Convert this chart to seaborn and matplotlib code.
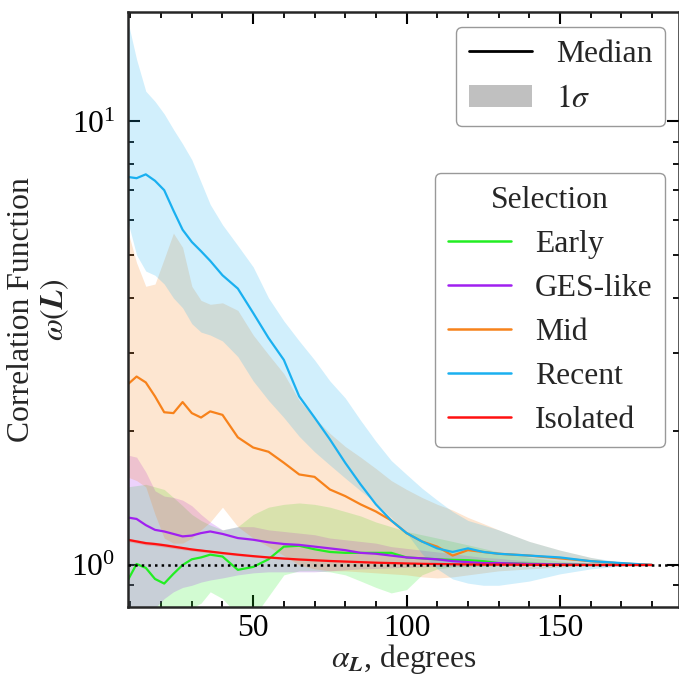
import numpy as np
import pandas as pd
import matplotlib
matplotlib.use("Agg")
import matplotlib.pyplot as plt
from matplotlib.lines import Line2D
from matplotlib.patches import Patch
import seaborn as sns

# --- Data ---
angles = [9, 12, 15, 18, 21, 24, 27, 30, 33, 36, 40, 45, 50, 55, 60, 65, 70, 75,
          80, 85, 90, 95, 100, 105, 110, 115, 120, 125, 130, 140, 150, 160, 170, 180]

selections = ['Early', 'GES-like', 'Mid', 'Recent', 'Isolated']

early_med = [0.92, 1.005, 0.985, 0.93, 0.908, 0.955, 1.0, 1.03, 1.04, 1.055, 1.045, 0.975, 0.99, 1.03,
             1.1, 1.105, 1.085, 1.07, 1.065, 1.065, 1.065, 1.065, 1.04, 1.035, 1.03, 1.027, 1.025, 1.02,
             1.01, 1.006, 1.003, 1.0, 1.0, 1.0]
early_lo = [0.75, 0.75, 0.75, 0.76, 0.77, 0.78, 0.79, 0.8, 0.82, 0.87, 0.84, 0.77, 0.76, 0.85,
            0.95, 0.97, 0.97, 0.965, 0.95, 0.92, 0.89, 0.865, 0.88, 0.95, 0.98, 0.99, 0.99, 0.993,
            0.995, 0.997, 0.998, 1.0, 1.0, 1.0]
early_hi = [1.5, 1.51, 1.52, 1.5, 1.48, 1.42, 1.36, 1.3, 1.26, 1.23, 1.2, 1.22, 1.3, 1.35,
            1.37, 1.38, 1.37, 1.35, 1.32, 1.29, 1.25, 1.22, 1.19, 1.17, 1.15, 1.13, 1.11, 1.09,
            1.07, 1.04, 1.02, 1.008, 1.002, 1.0]

ges_med = [1.28, 1.27, 1.23, 1.2, 1.19, 1.175, 1.16, 1.165, 1.18, 1.19, 1.175, 1.15, 1.14, 1.125,
           1.115, 1.11, 1.1, 1.09, 1.08, 1.065, 1.06, 1.05, 1.04, 1.035, 1.03, 1.02, 1.015, 1.01,
           1.01, 1.005, 1.003, 1.0, 1.0, 1.0]
ges_lo = [0.75, 0.76, 0.78, 0.8, 0.84, 0.87, 0.89, 0.9, 0.915, 0.925, 0.935, 0.95, 0.96, 0.965,
          0.965, 0.965, 0.965, 0.97, 0.975, 0.98, 0.982, 0.985, 0.988, 0.99, 0.992, 0.994, 0.995, 0.996,
          0.997, 0.998, 0.999, 1.0, 1.0, 1.0]
ges_hi = [1.77, 1.75, 1.62, 1.47, 1.43, 1.42, 1.4, 1.36, 1.3, 1.25, 1.2, 1.22, 1.22, 1.2,
          1.19, 1.18, 1.17, 1.15, 1.14, 1.13, 1.12, 1.1, 1.09, 1.08, 1.07, 1.06, 1.05, 1.04,
          1.035, 1.02, 1.01, 1.005, 1.0, 1.0]

mid_med = [2.55, 2.66, 2.58, 2.4, 2.21, 2.2, 2.33, 2.2, 2.15, 2.22, 2.18, 1.94, 1.84, 1.8,
           1.7, 1.6, 1.58, 1.48, 1.43, 1.37, 1.32, 1.26, 1.18, 1.13, 1.1, 1.05, 1.08, 1.07,
           1.06, 1.05, 1.035, 1.02, 1.008, 1.0]
mid_lo = [1.58, 1.55, 1.5, 1.3, 1.15, 1.12, 1.12, 1.15, 1.2, 1.25, 1.35, 1.22, 1.15, 1.1,
          1.05, 1.0, 0.98, 0.97, 0.97, 0.965, 0.96, 0.955, 0.95, 0.94, 0.935, 0.94, 0.95, 0.96,
          0.97, 0.98, 0.99, 0.995, 1.0, 1.0]
mid_hi = [5.7, 4.8, 4.25, 4.3, 4.9, 5.6, 5.2, 4.25, 3.95, 3.87, 3.9, 3.75, 3.3, 2.98,
          2.7, 2.35, 2.15, 1.98, 1.85, 1.75, 1.65, 1.55, 1.48, 1.42, 1.37, 1.33, 1.28, 1.24,
          1.2, 1.13, 1.08, 1.04, 1.01, 1.0]

recent_med = [7.5, 7.45, 7.6, 7.35, 7.0, 6.3, 5.7, 5.35, 5.1, 4.85, 4.5, 4.2, 3.7, 3.25,
              2.9, 2.4, 2.15, 1.92, 1.7, 1.52, 1.37, 1.26, 1.18, 1.13, 1.09, 1.07, 1.09, 1.07,
              1.06, 1.05, 1.04, 1.02, 1.01, 1.0]
recent_lo = [6.0, 5.0, 4.6, 4.5, 4.3, 4.0, 3.8, 3.5, 3.35, 3.3, 3.2, 2.95, 2.6, 2.35,
             2.15, 1.95, 1.8, 1.68, 1.57, 1.47, 1.38, 1.28, 1.18, 1.06, 0.98, 0.93, 0.91, 0.9,
             0.9, 0.92, 0.955, 0.98, 0.995, 1.0]
recent_hi = [17.0, 13.8, 11.7, 11.1, 10.4, 9.6, 8.9, 8.2, 7.3, 6.5, 5.85, 5.25, 4.7, 4.0,
             3.55, 3.2, 2.9, 2.6, 2.38, 2.12, 1.9, 1.72, 1.6, 1.49, 1.4, 1.32, 1.26, 1.23,
             1.2, 1.13, 1.08, 1.04, 1.015, 1.0]

isolated_med = [1.14, 1.13, 1.12, 1.115, 1.108, 1.1, 1.092, 1.084, 1.078, 1.072, 1.064, 1.055, 1.047, 1.04,
                1.034, 1.029, 1.025, 1.021, 1.018, 1.015, 1.012, 1.01, 1.008, 1.006, 1.005, 1.004, 1.003, 1.002,
                1.002, 1.001, 1.0, 1.0, 1.0, 1.0]
isolated_lo = [1.13, 1.12, 1.11, 1.105, 1.098, 1.09, 1.083, 1.076, 1.07, 1.065, 1.058, 1.049, 1.042, 1.035,
               1.03, 1.025, 1.021, 1.017, 1.014, 1.012, 1.009, 1.007, 1.005, 1.004, 1.003, 1.002, 1.001, 1.001,
               1.0, 1.0, 1.0, 1.0, 1.0, 1.0]
isolated_hi = [1.15, 1.14, 1.13, 1.125, 1.118, 1.11, 1.101, 1.092, 1.086, 1.079, 1.07, 1.061, 1.052, 1.045,
               1.038, 1.033, 1.029, 1.025, 1.022, 1.018, 1.015, 1.013, 1.011, 1.008, 1.007, 1.006, 1.005, 1.003,
               1.003, 1.002, 1.0, 1.0, 1.0, 1.0]

colors = {'Early': '#22ee22', 'GES-like': '#a020f0', 'Mid': '#f7821b',
          'Recent': '#1ab0f0', 'Isolated': '#ff1010'}

series = {
    'Early': (early_med, early_lo, early_hi),
    'GES-like': (ges_med, ges_lo, ges_hi),
    'Mid': (mid_med, mid_lo, mid_hi),
    'Recent': (recent_med, recent_lo, recent_hi),
    'Isolated': (isolated_med, isolated_lo, isolated_hi),
}

# long-form table for seaborn
rows = []
for name, (med, lo, hi) in series.items():
    for a, m, l, h in zip(angles, med, lo, hi):
        rows.append({'angle': a, 'median': m, 'lo': l, 'hi': h, 'Selection': name})
df = pd.DataFrame(rows)

# --- Style ---
sns.set_style("ticks")
FS = 22.8
plt.rcParams['font.family'] = ['Liberation Serif', 'DejaVu Serif']
plt.rcParams['mathtext.fontset'] = 'stix'
plt.rcParams['font.size'] = FS
plt.rcParams['axes.linewidth'] = 1.8
for ax_ in ('xtick', 'ytick'):
    plt.rcParams[f'{ax_}.direction'] = 'in'
    plt.rcParams[f'{ax_}.major.size'] = 8.5
    plt.rcParams[f'{ax_}.minor.size'] = 4.3
    plt.rcParams[f'{ax_}.major.width'] = 1.5
    plt.rcParams[f'{ax_}.minor.width'] = 1.3
    plt.rcParams[f'{ax_}.color'] = 'black'
plt.rcParams['xtick.top'] = True
plt.rcParams['ytick.right'] = True

fig = plt.figure(figsize=(6.79, 6.77), dpi=100)
ax = fig.add_axes([128 / 679, (677 - 607) / 677, (679 - 128) / 679, (607 - 11.5) / 677])

for name in selections:
    sub = df[df['Selection'] == name]
    ax.fill_between(sub['angle'], sub['lo'], sub['hi'], color=colors[name], alpha=0.2, lw=0)

sns.lineplot(data=df, x='angle', y='median', hue='Selection', palette=colors,
             hue_order=selections, lw=1.6, legend=False, ax=ax)

ax.axhline(1.0, color='black', ls=':', lw=1.8, zorder=5)

ax.set_yscale('log')
ax.set_xlim(9.2, 188.8)
ax.set_ylim(0.804, 17.7)
ax.set_xticks([50, 100, 150])
ax.xaxis.set_minor_locator(matplotlib.ticker.MultipleLocator(10))
ax.tick_params(axis='x', which='major', labelsize=FS, pad=5)
ax.tick_params(axis='y', which='major', labelsize=FS, pad=9)
ax.tick_params(which='both', top=True, right=True, direction='in')

ax.set_xlabel(r'$\alpha_{\mathbfit{L}}$, degrees', fontsize=FS, labelpad=-1)
ax.set_ylabel('Correlation Function\n' + r'$\omega(\mathbfit{L})$', fontsize=FS, labelpad=0,
              linespacing=1.1)

# legends
style_handles = [Line2D([], [], color='black', lw=2.0),
                 Patch(facecolor='#c0c0c0', edgecolor='none')]
leg1 = ax.legend(style_handles, ['Median', r'$1\sigma$'], loc='upper right',
                 bbox_to_anchor=(0.9745, 0.974), borderaxespad=0, fontsize=FS,
                 framealpha=1, edgecolor='0.6', fancybox=True, handletextpad=0.75,
                 labelspacing=0.5)
ax.add_artist(leg1)

sel_handles = [Line2D([], [], color=colors[n], lw=1.8) for n in selections]
leg2 = ax.legend(sel_handles, selections, title='Selection', loc='upper right',
                 bbox_to_anchor=(0.9745, 0.729), borderaxespad=0, fontsize=FS,
                 title_fontsize=FS, framealpha=1, edgecolor='0.6', fancybox=True,
                 labelspacing=0.47, handletextpad=0.75)

fig.savefig('out.png', dpi=100)
